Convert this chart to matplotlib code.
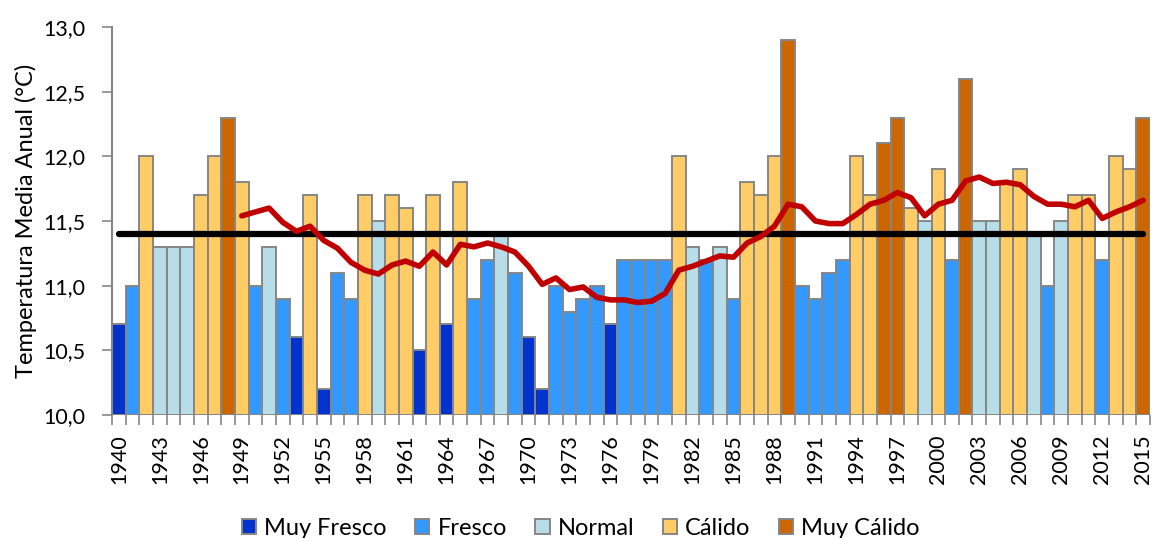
import matplotlib.pyplot as plt
import numpy as np
import pandas as pd

plt.rcParams['font.family'] = ['Lato', 'DejaVu Sans']

years = np.arange(1940, 2016)
temps = [10.7, 11.0, 12.0, 11.3, 11.3, 11.3, 11.7, 12.0, 12.3, 11.8,
         11.0, 11.3, 10.9, 10.6, 11.7, 10.2, 11.1, 10.9, 11.7, 11.5,
         11.7, 11.6, 10.5, 11.7, 10.7, 11.8, 10.9, 11.2, 11.4, 11.1,
         10.6, 10.2, 11.0, 10.8, 10.9, 11.0, 10.7, 11.2, 11.2, 11.2,
         11.2, 12.0, 11.3, 11.2, 11.3, 10.9, 11.8, 11.7, 12.0, 12.9,
         11.0, 10.9, 11.1, 11.2, 12.0, 11.7, 12.1, 12.3, 11.6, 11.5,
         11.9, 11.2, 12.6, 11.5, 11.5, 11.8, 11.9, 11.4, 11.0, 11.5,
         11.7, 11.7, 11.2, 12.0, 11.9, 12.3]
category = ["MF", "F", "C", "N", "N", "N", "C", "C", "MC", "C",
            "F", "N", "F", "MF", "C", "MF", "F", "F", "C", "N",
            "C", "C", "MF", "C", "MF", "C", "F", "F", "N", "F",
            "MF", "MF", "F", "F", "F", "F", "MF", "F", "F", "F",
            "F", "C", "N", "F", "N", "F", "C", "C", "C", "MC",
            "F", "F", "F", "F", "C", "C", "MC", "MC", "C", "N",
            "C", "F", "MC", "N", "N", "C", "C", "N", "F", "N",
            "C", "C", "F", "C", "C", "MC"]
cat_keys = ["MF", "F", "N", "C", "MC"]
cat_names = ["Muy Fresco", "Fresco", "Normal", "Cálido", "Muy Cálido"]
cat_colors = ["#0033CC", "#3399FF", "#B7DEE8", "#FFCC66", "#CC6600"]
normal_mean = 11.4
window = 10

temps = np.array(temps)
category = np.array(category)
moving = pd.Series(temps, index=years).rolling(window).mean()

fig = plt.figure(figsize=(11.55, 5.38), dpi=100)
ax = fig.add_axes([0.097, 0.2286, 0.8987, 0.7212])

ax.axhline(10, color="#CC6600", lw=2, zorder=1)
for key, name, color in zip(cat_keys, cat_names, cat_colors):
    m = category == key
    ax.bar(years[m], temps[m] - 10, bottom=10, width=1.0, color=color,
           edgecolor="#868686", linewidth=1.4, label=name, zorder=2)

ax.plot(years, np.full(len(years), normal_mean), color="black", lw=4.5,
        solid_capstyle="round", zorder=3)
ax.plot(moving.index, moving.values, color="#C00000", lw=4,
        solid_capstyle="round", zorder=4)

ax.set_xlim(1939.5, 2015.5)
ax.set_ylim(10, 13)
ax.set_yticks(np.arange(10, 13.01, 0.5))
ax.set_yticklabels([f"{v:.1f}".replace(".", ",") for v in np.arange(10, 13.01, 0.5)],
                   fontsize=15.5)
ax.set_xticks(years[::3])
ax.set_xticklabels([str(y) for y in years[::3]], rotation=90, fontsize=15.5)
ax.set_xticks(np.arange(1939.5, 2016, 1), minor=True)
ax.tick_params(axis="x", which="major", length=0, pad=14)
ax.tick_params(axis="x", which="minor", length=7, color="#868686", width=1.2)
ax.tick_params(axis="y", length=7, color="#868686", width=1.2, pad=12)
ax.set_ylabel("Temperatura Media Anual (°C)", fontsize=17, labelpad=5)

for s in ["top", "right"]:
    ax.spines[s].set_visible(False)
ax.spines["left"].set_color("#868686")
ax.spines["left"].set_linewidth(1.5)
ax.spines["bottom"].set_visible(False)

fig.legend(*ax.get_legend_handles_labels(), loc="center",
           bbox_to_anchor=(0.503, 0.018), ncol=5, frameon=False,
           fontsize=17, handlelength=0.6, handleheight=0.6,
           handletextpad=0.35, columnspacing=1.2, borderpad=0)

fig.savefig("out.png", dpi=100)
